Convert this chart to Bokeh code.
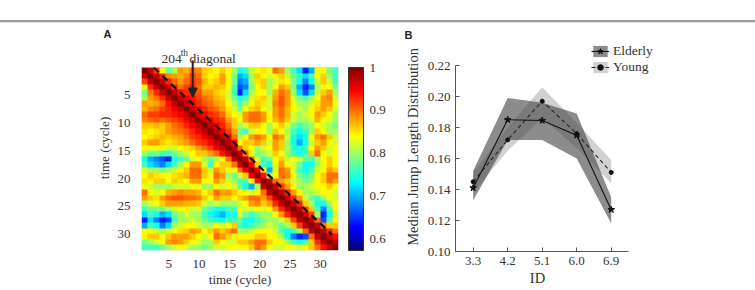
import numpy as np
from bokeh.plotting import figure
from bokeh.models import (LinearColorMapper, ColorBar, FixedTicker, Range1d, Label,
                          Arrow, NormalHead, Legend, LegendItem, Spacer, NumeralTickFormatter,
                          BoxAnnotation)
from bokeh.layouts import row, column
from bokeh.embed import file_html
from bokeh.resources import INLINE

# ---------------- data ----------------
# Upper triangle of the cycle-by-cycle correlation matrix (percent), row r holds columns r..33
corr_upper = [
    [100, 97, 92, 84, 78, 80, 88, 87, 90, 89, 86, 85, 84, 86, 84, 80, 74, 76, 82, 84, 85, 83, 90, 88, 80, 76, 72, 64, 70, 84, 84, 78, 76],
    [100, 97, 93, 89, 88, 87, 89, 92, 90, 86, 84, 85, 88, 84, 78, 70, 72, 80, 86, 84, 82, 84, 86, 82, 78, 76, 72, 76, 84, 86, 80, 76],
    [100, 97, 93, 90, 88, 90, 92, 91, 87, 85, 86, 88, 84, 78, 68, 70, 80, 85, 86, 80, 82, 85, 84, 78, 74, 68, 74, 82, 86, 82, 76],
    [100, 97, 93, 90, 92, 93, 90, 86, 86, 87, 86, 84, 76, 66, 68, 78, 84, 86, 80, 84, 88, 86, 78, 70, 64, 68, 80, 84, 84, 78],
    [100, 97, 94, 93, 93, 91, 88, 88, 86, 85, 82, 76, 64, 72, 80, 84, 84, 80, 87, 90, 88, 80, 72, 66, 72, 82, 86, 88, 80],
    [100, 97, 95, 94, 92, 90, 89, 87, 86, 82, 78, 74, 76, 82, 85, 86, 82, 88, 91, 88, 82, 78, 76, 80, 84, 88, 89, 82],
    [100, 97, 95, 93, 91, 90, 88, 87, 84, 80, 76, 80, 84, 86, 85, 82, 89, 91, 88, 84, 80, 80, 82, 85, 88, 88, 84],
    [100, 97, 95, 93, 91, 90, 88, 85, 82, 78, 84, 86, 87, 84, 82, 88, 90, 87, 84, 82, 80, 84, 86, 88, 86, 82],
    [100, 97, 95, 93, 92, 90, 86, 84, 82, 88, 90, 90, 88, 84, 88, 90, 87, 82, 80, 82, 84, 88, 86, 84, 80],
    [100, 97, 95, 93, 92, 88, 86, 84, 88, 90, 90, 88, 84, 87, 89, 86, 82, 80, 80, 82, 87, 84, 82, 80],
    [100, 97, 95, 93, 90, 86, 80, 82, 86, 86, 84, 80, 84, 86, 82, 78, 76, 78, 80, 84, 82, 80, 78],
    [100, 97, 95, 92, 88, 78, 76, 82, 84, 84, 80, 86, 84, 80, 76, 74, 76, 80, 86, 84, 80, 80],
    [100, 97, 95, 90, 80, 84, 88, 90, 88, 84, 90, 88, 82, 74, 72, 74, 84, 88, 90, 86, 82],
    [100, 97, 94, 84, 86, 86, 88, 86, 82, 88, 86, 80, 74, 70, 74, 82, 86, 88, 84, 82],
    [100, 97, 90, 86, 84, 80, 82, 84, 88, 86, 80, 76, 74, 76, 84, 88, 86, 82, 84],
    [100, 97, 90, 84, 78, 80, 82, 86, 84, 80, 76, 74, 76, 86, 90, 84, 82, 84],
    [100, 97, 90, 82, 76, 78, 84, 86, 82, 84, 82, 78, 76, 80, 84, 86, 84],
    [100, 95, 86, 76, 74, 84, 88, 84, 82, 78, 74, 74, 80, 84, 86, 84],
    [100, 95, 84, 70, 82, 90, 88, 82, 76, 74, 76, 82, 84, 88, 86],
    [100, 94, 80, 84, 90, 89, 84, 78, 76, 78, 84, 86, 90, 90],
    [100, 97, 90, 88, 86, 82, 80, 78, 80, 84, 86, 90, 88],
    [100, 97, 92, 88, 84, 80, 80, 82, 84, 84, 86, 84],
    [100, 97, 93, 88, 84, 80, 80, 82, 84, 84, 82],
    [100, 97, 93, 88, 82, 78, 76, 80, 84, 82],
    [100, 97, 93, 86, 80, 74, 74, 80, 84],
    [100, 97, 92, 86, 76, 68, 76, 84],
    [100, 97, 92, 80, 64, 74, 82],
    [100, 97, 90, 66, 76, 84],
    [100, 97, 90, 86, 86],
    [100, 97, 93, 90],
    [100, 97, 94],
    [100, 97],
    [100],
]
time_ticks = [5, 10, 15, 20, 25, 30]
colorbar_ticks = [0.6, 0.7, 0.8, 0.9, 1.0]
corr_low, corr_high = 0.573, 1.0

# dashed "204th diagonal" reference line and its pointer
diag_cycles = [2.5, 31.9]
diag_times = [0.1, 30.0]
pointer_cycle = 8.95
pointer_from, pointer_to = -1.15, 5.4

# panel B: median jump length by index of difficulty
id_values = [3.3, 4.2, 5.1, 6.0, 6.9]
id_labels = ["3.3", "4.2", "5.1", "6.0", "6.9"]
elderly_median = [0.141, 0.185, 0.1845, 0.175, 0.127]
elderly_upper = [0.152, 0.199, 0.196, 0.189, 0.135]
elderly_lower = [0.133, 0.172, 0.172, 0.160, 0.118]
young_median = [0.145, 0.172, 0.197, 0.176, 0.151]
young_upper = [0.151, 0.180, 0.206, 0.183, 0.159]
young_lower = [0.138, 0.165, 0.186, 0.167, 0.144]
jump_ticks = [0.10, 0.12, 0.14, 0.16, 0.18, 0.20, 0.22]

# ---------------- helpers ----------------
SERIF = "Liberation Serif"
TXT = "#333333"


def jet(t):
    def c(v):
        return int(round(255 * min(max(v, 0.0), 1.0)))
    r = c(1.5 - abs(4 * t - 3))
    g = c(1.5 - abs(4 * t - 2))
    b = c(1.5 - abs(4 * t - 1))
    return "#%02x%02x%02x" % (r, g, b)


jet_palette = [jet(i / 255) for i in range(256)]

n = len(corr_upper)
corr = np.zeros((n, n))
for i, vals in enumerate(corr_upper):
    for k, v in enumerate(vals):
        corr[i, i + k] = v / 100.0
        corr[i + k, i] = v / 100.0


def strip(width, height, x_range, y_range):
    """Axis-less figure whose frame fills its whole canvas (used for text above/below panels)."""
    s = figure(width=width, height=height, x_range=x_range, y_range=y_range,
               output_backend="svg", toolbar_location=None,
               x_axis_location=None, y_axis_location=None,
               min_border_left=0, min_border_right=0, min_border_top=0, min_border_bottom=0)
    s.frame_align = False
    s.outline_line_color = None
    s.grid.visible = False
    return s


# ---------------- panel A: heatmap ----------------
x_lo, x_hi = 0.5, 33.0
y_lo, y_hi = 0.1, 32.9
A_W, A_LEFT, A_IMG_W, A_IMG_H = 400, 141, 197, 183
A_STRIP_H, A_MAIN_H, A_BOTTOM = 22, 245, 40
A_GAP = A_MAIN_H - A_BOTTOM - A_IMG_H          # room above the matrix for the pointer text
px_x = A_IMG_W / (x_hi - x_lo)
px_y = A_IMG_H / (y_hi - y_lo)
y_top = y_lo - A_GAP / px_y

pa = figure(width=A_W, height=A_MAIN_H, x_range=Range1d(x_lo, x_hi), y_range=Range1d(y_hi, y_top),
            output_backend="svg", toolbar_location=None,
            min_border_left=A_LEFT, min_border_right=A_W - A_LEFT - A_IMG_W,
            min_border_top=0, min_border_bottom=A_BOTTOM)
pa.frame_align = False
pa.outline_line_color = None
pa.grid.visible = False
mapper = LinearColorMapper(palette=jet_palette, low=corr_low, high=corr_high)
pa.image(image=[corr], x=x_lo, y=y_lo, dw=x_hi - x_lo, dh=y_hi - y_lo, color_mapper=mapper)
pa.add_layout(BoxAnnotation(left=x_lo, right=x_hi, top=y_lo, bottom=y_hi, fill_alpha=0,
                            line_color="#9fb3c8", line_width=1))
pa.line(diag_cycles, diag_times, line_color="#111111", line_width=2.2, line_dash="7 5")
pa.add_layout(Arrow(end=NormalHead(size=9, fill_color="#222222", line_color="#222222"),
                    x_start=pointer_cycle, y_start=pointer_from,
                    x_end=pointer_cycle, y_end=pointer_to,
                    line_color="#222222", line_width=2))
pa.add_layout(Label(x=3.80, y=-1.5, text="204", text_font=SERIF, text_font_size="13.5px",
                    text_color=TXT, text_baseline="alphabetic"))
pa.add_layout(Label(x=6.97, y=-2.45, text="th", text_font=SERIF, text_font_size="9.5px",
                    text_color=TXT, text_baseline="alphabetic"))
pa.add_layout(Label(x=8.40, y=-1.5, text="diagonal", text_font=SERIF, text_font_size="13.5px",
                    text_color=TXT, text_baseline="alphabetic"))

for ax in (pa.xaxis[0], pa.yaxis[0]):
    ax.ticker = FixedTicker(ticks=time_ticks)
    ax.axis_line_color = None
    ax.major_tick_line_color = None
    ax.minor_tick_line_color = None
    ax.major_label_text_font = SERIF
    ax.major_label_text_font_size = "13px"
    ax.major_label_text_color = TXT
    ax.axis_label = "time (cycle)"
    ax.axis_label_text_font = SERIF
    ax.axis_label_text_font_size = "13px"
    ax.axis_label_text_font_style = "normal"
    ax.axis_label_text_color = TXT
pa.xaxis.major_label_standoff = 3
pa.xaxis.axis_label_standoff = 1
pa.yaxis.major_label_standoff = 5
pa.yaxis.axis_label_standoff = 3
pa.yaxis.bounds = (y_lo, y_hi)

cb = ColorBar(color_mapper=mapper, width=15, height=A_IMG_H, padding=0, margin=0,
              location=(10, 0), label_standoff=6,
              ticker=FixedTicker(ticks=colorbar_ticks), major_label_overrides={1.0: "1"},
              major_label_text_font=SERIF, major_label_text_font_size="13px",
              major_label_text_color=TXT, major_tick_line_color=None,
              bar_line_color="#333333", bar_line_width=1, border_line_color=None,
              background_fill_alpha=0)
pa.add_layout(cb, "right")

# strip above the heatmap for the panel letter, in the same cycle/time units
strip_a = strip(A_W, A_STRIP_H,
                Range1d(x_lo - A_LEFT / px_x, x_lo + (A_W - A_LEFT) / px_x),
                Range1d(y_top, y_top - A_STRIP_H / px_y))
strip_a.add_layout(Label(x=-5.77, y=-6.9, text="A", text_font="Liberation Sans", text_font_style="bold",
                         text_font_size="11px", text_color="#222222", text_baseline="top"))

# ---------------- panel B: line chart with bands ----------------
B_W, B_LEFT, B_AXIS_W, B_FRAME_W = 355, 55, 173, 245
B_AXIS_H, B_FRAME_H = 186, 209
B_TOP_H, B_MAIN_H, B_BOTTOM_H = 19, 228, 20
bx_lo, bx_hi = 2.84, 7.35
by_lo, by_hi = 0.10, 0.22
bx_end = bx_lo + (bx_hi - bx_lo) * B_FRAME_W / B_AXIS_W
by_end = by_lo + (by_hi - by_lo) * B_FRAME_H / B_AXIS_H

pb = figure(width=B_W, height=B_MAIN_H, x_range=Range1d(bx_lo, bx_end), y_range=Range1d(by_lo, by_end),
            output_backend="svg", toolbar_location=None,
            min_border_left=B_LEFT, min_border_right=B_W - B_LEFT - B_FRAME_W,
            min_border_top=0, min_border_bottom=B_MAIN_H - B_FRAME_H)
pb.frame_align = False
pb.outline_line_color = None
pb.grid.visible = False

young_band = pb.varea(x=id_values, y1=young_lower, y2=young_upper, fill_color="#999999", fill_alpha=0.45)
elderly_band = pb.varea(x=id_values, y1=elderly_lower, y2=elderly_upper, fill_color="#404040", fill_alpha=0.6)
young_line = pb.line(id_values, young_median, line_color="#222222", line_width=1.1, line_dash="4 3")
elderly_line = pb.line(id_values, elderly_median, line_color="#111111", line_width=1.1)
young_pts = pb.scatter(id_values, young_median, marker="circle", size=4, fill_color="#111111", line_color="#111111")
elderly_pts = pb.scatter(id_values, elderly_median, marker="star", size=7, fill_color="#111111", line_color="#111111")

pb.xaxis.ticker = FixedTicker(ticks=id_values)
pb.xaxis.major_label_overrides = {v: lbl for v, lbl in zip(id_values, id_labels)}
pb.xaxis.bounds = (bx_lo, bx_hi)
pb.yaxis.ticker = FixedTicker(ticks=jump_ticks)
pb.yaxis.formatter = NumeralTickFormatter(format="0.00")
pb.yaxis.axis_label = "Median Jump Length Distribution"
pb.yaxis.bounds = (by_lo, by_hi)
for ax in (pb.xaxis[0], pb.yaxis[0]):
    ax.axis_line_color = "#555555"
    ax.major_tick_line_color = "#555555"
    ax.major_tick_in = 4
    ax.major_tick_out = 0
    ax.minor_tick_line_color = None
    ax.major_label_text_font = SERIF
    ax.major_label_text_font_size = "13px"
    ax.major_label_text_color = TXT
    ax.axis_label_text_font = SERIF
    ax.axis_label_text_font_size = "14.5px"
    ax.axis_label_text_font_style = "normal"
    ax.axis_label_text_color = TXT
    ax.major_label_standoff = 5
    ax.axis_label_standoff = 4

legend = Legend(items=[
    LegendItem(label="Elderly", renderers=[elderly_band, elderly_line, elderly_pts]),
    LegendItem(label="Young", renderers=[young_band, young_line, young_pts]),
], location=(136, 176), orientation="vertical")
legend.border_line_color = None
legend.background_fill_alpha = 0
legend.padding = 0
legend.spacing = 0
legend.margin = 0
legend.glyph_width = 18
legend.glyph_height = 14
legend.label_height = 14
legend.label_standoff = 4
legend.label_text_font = SERIF
legend.label_text_font_size = "13.5px"
legend.label_text_color = TXT
pb.add_layout(legend, "center")

# strips above and below panel B (pixel units) for its letter and x-axis title
strip_b = strip(B_W, B_TOP_H, Range1d(0, B_W), Range1d(B_TOP_H, 0))
strip_b.add_layout(Label(x=4, y=5, text="B", text_font="Liberation Sans", text_font_style="bold",
                         text_font_size="11px", text_color="#222222", text_baseline="top"))
strip_b_bottom = strip(B_W, B_BOTTOM_H, Range1d(0, B_W), Range1d(B_BOTTOM_H, 0))
strip_b_bottom.add_layout(Label(x=137, y=7, text="ID", text_font=SERIF, text_font_size="14.5px",
                                text_color=TXT, text_align="center", text_baseline="middle"))

page = column(
    Spacer(width=755, height=20),
    Spacer(width=755, height=2, styles={"background-color": "#9c9c9c"}),
    Spacer(width=755, height=1, styles={"background-color": "#dedede"}),
    row(column(strip_a, pa), column(strip_b, pb, strip_b_bottom)),
)

open("out.html", "w").write(file_html(page, INLINE))
